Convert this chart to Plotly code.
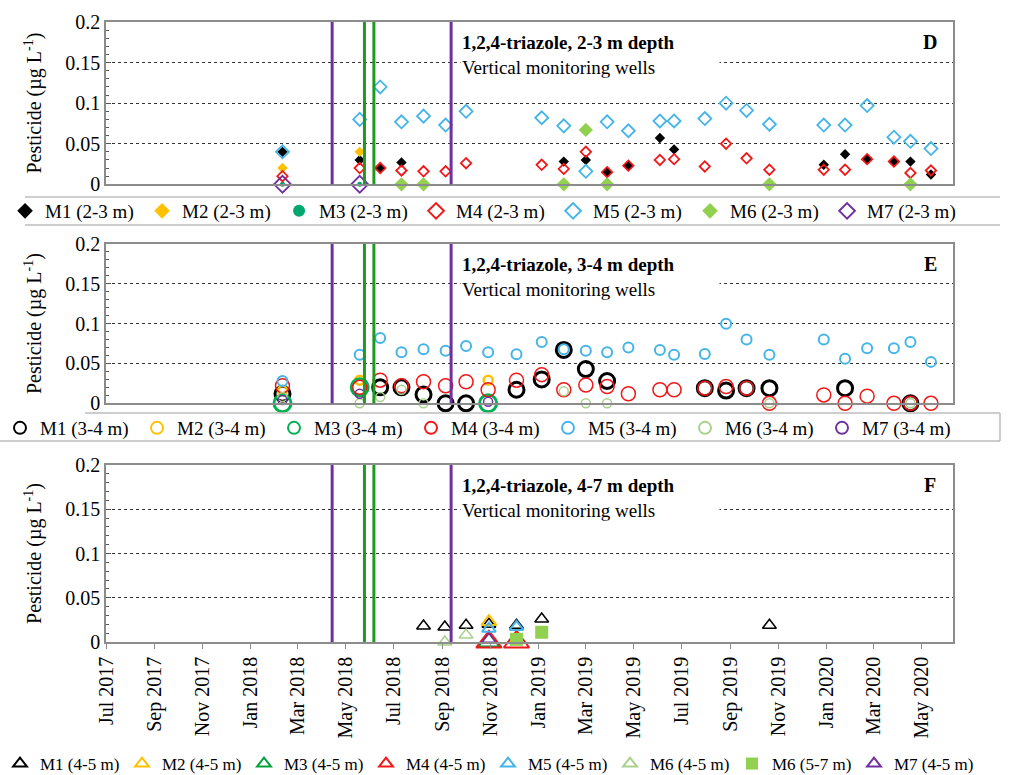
import plotly.graph_objects as go

FONT = "'Liberation Serif', 'Times New Roman', Times, serif"

# ---------------- data ----------------
# Panel D : 2-3 m depth
D_dates = ["2018-02-10", "2018-05-19", "2018-06-14", "2018-07-11", "2018-08-08", "2018-09-05",
           "2018-10-01", "2019-01-05", "2019-02-02", "2019-03-02", "2019-03-29", "2019-04-25",
           "2019-06-04", "2019-06-22", "2019-07-31", "2019-08-27", "2019-09-22", "2019-10-21",
           "2019-12-29", "2020-01-25", "2020-02-22", "2020-03-27", "2020-04-17", "2020-05-13"]
D_M1 = [0.040, 0.030, 0.020, 0.027, None, None, None, None, 0.028, 0.030, 0.015, 0.023,
        0.057, 0.043, None, None, None, None, 0.024, 0.037, 0.031, 0.028, 0.028, 0.012]
D_M2 = [0.020, 0.040] + [None] * 22
D_M3 = [0.0, 0.0] + [None] * 22
D_M4 = [0.010, 0.020, 0.020, 0.017, 0.016, 0.016, 0.026, 0.024, 0.019, 0.040, 0.015, 0.023,
        0.030, 0.031, 0.022, 0.050, 0.032, 0.018, 0.018, 0.018, 0.031, 0.028, 0.014, 0.017]
D_M5 = [0.040, 0.080, 0.120, 0.077, 0.084, 0.073, 0.090, 0.082, 0.072, 0.016, 0.077, 0.066,
        0.078, 0.078, 0.081, 0.100, 0.091, 0.074, 0.073, 0.073, 0.097, 0.058, 0.053, 0.044]
D_M6 = [None, None, None, 0.0, 0.0, None, None, None, 0.0, 0.067, 0.0, None,
        None, None, None, None, None, 0.0, None, None, None, None, 0.0, None]
D_M7 = [0.0, 0.0] + [None] * 22

# Panel E : 3-4 m depth
E_dates = ["2018-02-10", "2018-05-19", "2018-06-14", "2018-07-11", "2018-08-08", "2018-09-05",
           "2018-10-01", "2018-10-29", "2018-12-04", "2019-01-05", "2019-02-02", "2019-03-02",
           "2019-03-29", "2019-04-25", "2019-06-04", "2019-06-22", "2019-07-31", "2019-08-27",
           "2019-09-22", "2019-10-21", "2019-12-29", "2020-01-25", "2020-02-22", "2020-03-27",
           "2020-04-17", "2020-05-13"]
E_M1 = [0.012, None, 0.020, 0.020, 0.011, 0.0, 0.0, None, 0.017, 0.030, 0.067, 0.043,
        0.028, None, None, None, 0.019, 0.016, 0.019, 0.019, None, 0.019, None, None,
        0.0, None]
E_M2 = [0.016, 0.029, None, None, None, None, None, 0.029] + [None] * 18
E_M3 = [0.0, 0.020, None, None, None, None, None, 0.0] + [None] * 18
E_M4 = [0.022, 0.020, 0.029, 0.022, 0.027, 0.022, 0.027, 0.017, 0.029, 0.036, 0.017, 0.023,
        0.021, 0.012, 0.017, 0.017, 0.019, 0.021, 0.019, 0.0, 0.0105, 0.0, 0.009, 0.0,
        0.0, 0.0]
E_M5 = [0.028, 0.061, 0.082, 0.064, 0.068, 0.066, 0.072, 0.064, 0.0615, 0.077, 0.068, 0.066,
        0.064, 0.070, 0.067, 0.061, 0.062, 0.100, 0.080, 0.061, 0.080, 0.056, 0.069, 0.069,
        0.077, 0.052]
E_M6 = [0.008, 0.0, 0.008, 0.017, 0.0, None, None, None, None, None, 0.015, 0.0,
        0.0, None, None, None, None, None, None, 0.0, None, None, None, None,
        0.0, None]
E_M7 = [0.004, 0.012, None, None, None, None, None, 0.002] + [None] * 18

# Panel F : 4-7 m depth
F_dates = ["2018-08-08", "2018-09-04", "2018-10-01", "2018-10-30", "2018-12-04", "2019-01-05",
           "2019-10-21"]
F_M1 = [0.018, 0.017, 0.019, 0.020, 0.019, 0.026, 0.019]
F_M2 = [None, None, None, 0.023, None, None, None]
F_M3 = [None, None, None, 0.0, None, None, None]
F_M4 = [None, None, None, 0.0, 0.0, None, None]
F_M5 = [None, None, None, 0.015, 0.017, None, None]
F_M6a = [None, 0.0, 0.008, None, None, None, None]
F_M6b = [None, None, None, None, 0.003, 0.011, None]
F_M7 = [None, None, None, 0.003, None, None, None]

# application events (vertical lines)
purple_events = ["2018-04-14", "2018-09-12"]
green_events = ["2018-05-25", "2018-06-06"]

panel_titles = ["1,2,4-triazole, 2-3 m depth", "1,2,4-triazole, 3-4 m depth",
                "1,2,4-triazole, 4-7 m depth"]
panel_letters = ["D", "E", "F"]

# ---------------- styling ----------------
W, H = 1010, 775
X0, X1 = 106, 953
panels_px = [(22, 184.3), (244, 403.3), (465, 642)]  # (y of 0.2, y of 0)


def py(y):
    return 1 - y / H


def px(x):
    return x / W


C_M1 = "#000000"
C_M2 = "#FFC000"
C_M3 = "#00B050"
C_M4 = "#F01818"
C_M5 = "#45B5E8"
C_M6 = "#92D050"
C_M6o = "#A9D18E"
C_M7 = "#7030A0"

fig = go.Figure()


def add(dates, vals, name, axis, legend, symbol, color, size, lw=0):
    xs = [d for d, v in zip(dates, vals) if v is not None]
    ys = [v for v in vals if v is not None]
    fig.add_trace(go.Scatter(
        x=xs, y=ys, mode="markers", name=name,
        xaxis="x" + axis, yaxis="y" + axis, legend=legend, cliponaxis=False,
        marker=dict(symbol=symbol, color=color, size=size,
                    line=dict(width=lw, color=color))))


# Panel D
add(D_dates, D_M1, "M1 (2-3 m)", "", "legend", "diamond", C_M1, 8)
add(D_dates, D_M2, "M2 (2-3 m)", "", "legend", "diamond", C_M2, 8)
add(D_dates, D_M3, "M3 (2-3 m)", "", "legend", "circle", "#00A870", 5)
add(D_dates, D_M4, "M4 (2-3 m)", "", "legend", "diamond-open", C_M4, 8, 1.8)
add(D_dates, D_M5, "M5 (2-3 m)", "", "legend", "diamond-open", C_M5, 10, 1.8)
add(D_dates, D_M6, "M6 (2-3 m)", "", "legend", "diamond", C_M6, 11)
add(D_dates, D_M7, "M7 (2-3 m)", "", "legend", "diamond-open", C_M7, 13, 1.8)

# Panel E
add(E_dates, E_M1, "M1 (3-4 m)", "2", "legend2", "circle-open", C_M1, 15, 3)
add(E_dates, E_M2, "M2 (3-4 m)", "2", "legend2", "circle-open", C_M2, 9, 2.5)
add(E_dates, E_M3, "M3 (3-4 m)", "2", "legend2", "circle-open", C_M3, 17, 3)
add(E_dates, E_M4, "M4 (3-4 m)", "2", "legend2", "circle-open", C_M4, 14, 1.5)
add(E_dates, E_M5, "M5 (3-4 m)", "2", "legend2", "circle-open", C_M5, 10, 2)
add(E_dates, E_M6, "M6 (3-4 m)", "2", "legend2", "circle-open", C_M6o, 9, 1.5)
add(E_dates, E_M7, "M7 (3-4 m)", "2", "legend2", "circle-open", C_M7, 9, 1.5)

# Panel F
add(F_dates, F_M1, "M1 (4-5 m)", "3", "legend3", "triangle-up-open", C_M1, 12, 1.5)
add(F_dates, F_M2, "M2 (4-5 m)", "3", "legend3", "triangle-up-open", C_M2, 13, 2)
add(F_dates, F_M3, "M3 (4-5 m)", "3", "legend3", "triangle-up-open", "#00A040", 18, 2)
add(F_dates, F_M4, "M4 (4-5 m)", "3", "legend3", "triangle-up-open", C_M4, 22, 2)
add(F_dates, F_M5, "M5 (4-5 m)", "3", "legend3", "triangle-up-open", C_M5, 12, 2)
add(F_dates, F_M6a, "M6 (4-5 m)", "3", "legend3", "triangle-up-open", C_M6o, 12, 1.5)
add(F_dates, F_M6b, "M6 (5-7 m)", "3", "legend3", "square", C_M6, 13)
add(F_dates, F_M7, "M7 (4-5 m)", "3", "legend3", "triangle-up-open", C_M7, 12, 1.5)

xrange = ["2017-07-01", "2020-06-10"]
xdom = [px(X0), px(X1)]

layout = dict(
    width=W, height=H, margin=dict(l=0, r=0, t=0, b=0, autoexpand=False),
    paper_bgcolor="white", plot_bgcolor="white",
    font=dict(family=FONT, size=19, color="black"),
    showlegend=True,
)

for i, key in enumerate(["", "2", "3"]):
    top, bot = panels_px[i]
    last = (i == 2)
    layout["xaxis" + key] = dict(
        domain=xdom, anchor="y" + key, type="date", range=xrange,
        showline=True, linecolor="#8c8c8c", linewidth=1.5, mirror=True,
        showgrid=False, zeroline=False,
        showticklabels=last, ticks="outside" if last else "", ticklen=5,
        tickcolor="#8c8c8c",
        tickmode="linear", tick0="2017-07-01", dtick="M2", tickformat="%b %Y",
        tickangle=-90, tickfont=dict(family=FONT, size=20),
    )
    layout["yaxis" + key] = dict(
        domain=[py(bot), py(top)], anchor="x" + key, range=[0, 0.2],
        dtick=0.05, tick0=0, showgrid=True, gridcolor="#333333", griddash="dot",
        gridwidth=1, zeroline=False,
        showline=True, linecolor="#8c8c8c", linewidth=1.5, mirror=True,
        ticks="inside", ticklen=5, tickcolor="#555555",
        minor=dict(dtick=0.01, ticks="inside", ticklen=3, tickcolor="#555555", showgrid=False),
        tickfont=dict(family=FONT, size=20),
        title=dict(text="Pesticide (µg L<sup>-1</sup>)", font=dict(family=FONT, size=20),
                   standoff=18),
    )

legend_common = dict(orientation="h", xanchor="left", yanchor="middle",
                     bgcolor="rgba(0,0,0,0)", itemsizing="constant",
                     traceorder="normal", entrywidthmode="pixels", tracegroupgap=0)
layout["legend"] = dict(legend_common, x=0.005, y=py(211), entrywidth=92,
                        font=dict(family=FONT, size=19))
layout["legend2"] = dict(legend_common, x=0.0, y=py(428), entrywidth=92,
                         font=dict(family=FONT, size=19))
layout["legend3"] = dict(legend_common, x=0.0, y=py(764), entrywidth=77,
                         font=dict(family=FONT, size=17))

fig.update_layout(**layout)

# vertical event lines
for i, key in enumerate(["", "2", "3"]):
    for d in purple_events:
        fig.add_shape(type="line", xref="x" + key, yref=("y" + key) + " domain",
                      x0=d, x1=d, y0=0, y1=1, line=dict(color=C_M7, width=3))
    for d in green_events:
        fig.add_shape(type="line", xref="x" + key, yref=("y" + key) + " domain",
                      x0=d, x1=d, y0=0, y1=1, line=dict(color="#1E9A1E", width=3))

# legend frame lines
grey = "#BDBDBD"
for (x0, y0, x1, y1) in [(25, 197, 1000, 197), (25, 225, 1000, 225),
                         (85, 413, 1000, 413), (0, 441, 1000, 441),
                         (1000, 413, 1000, 441)]:
    fig.add_shape(type="line", xref="paper", yref="paper",
                  x0=px(x0), x1=px(x1), y0=py(y0), y1=py(y1),
                  line=dict(color=grey, width=1.5))

# panel titles
for i in range(3):
    top, bot = panels_px[i]
    fig.add_annotation(
        xref="paper", yref="paper", x=px(460), y=py(top + 8),
        xanchor="left", yanchor="top", align="left", showarrow=False,
        text="<b>" + panel_titles[i] + "</b><br>Vertical monitoring wells",
        font=dict(family=FONT, size=19), bgcolor="white", width=256, borderpad=1)
    fig.add_annotation(
        xref="paper", yref="paper", x=px(930), y=py(top + 20),
        xanchor="center", yanchor="middle", showarrow=False,
        text="<b>" + panel_letters[i] + "</b>", font=dict(family=FONT, size=20))

fig.write_html("out.html")
